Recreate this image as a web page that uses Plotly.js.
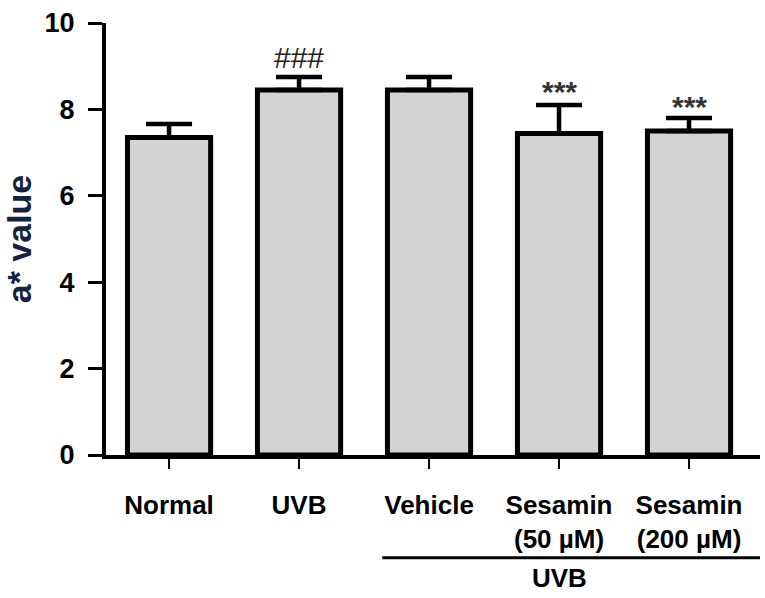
<!DOCTYPE html>
<html>
<head>
<meta charset="utf-8">
<script src="https://cdn.plot.ly/plotly-3.0.1.min.js"></script>
<style>html,body{margin:0;padding:0;background:#fff;}#chart{width:765px;height:598px;}</style>
</head>
<body>
<div id="chart"></div>
<script>
// Data
var categories = ["Normal", "UVB", "Vehicle", "Sesamin (50 µM)", "Sesamin (200 µM)"];
var tickLabels = ["Normal", "UVB", "Vehicle", "Sesamin<br>(50 µM)", "Sesamin<br>(200 µM)"];
var means = [7.35, 8.45, 8.45, 7.44, 7.50];
var errors = [0.31, 0.30, 0.30, 0.66, 0.30];
var marks = ["", "###", "", "***", "***"];
var markY = [null, 9.19, null, 8.41, 8.06];
var groupLabel = "UVB";
var groupStart = 1.64, groupEnd = 4.546, groupCenter = 3.0;

var xs = categories.map(function(_, i){ return i; });

var trace = {
  type: "bar",
  x: xs,
  y: means,
  width: 0.64,
  marker: {color: "#d3d3d3", line: {color: "#000", width: 5}},
  error_y: {type: "data", array: errors, arrayminus: errors.map(function(){return 0;}), symmetric: false,
            color: "#000", thickness: 4.5, width: 23},
  hoverinfo: "skip"
};

var annotations = [];
marks.forEach(function(m, i){
  if (!m) return;
  var isStar = m.indexOf("*") >= 0;
  annotations.push({x: xs[i], y: markY[i], xref: "x", yref: "y", text: isStar ? "<b>" + m + "</b>" : m, showarrow: false,
    font: {family: "Liberation Sans, Arial, sans-serif", size: 30, color: isStar ? "#333" : "#222"},
    xanchor: "center", yanchor: "middle"});
});
annotations.push({x: groupCenter, y: -0.285, xref: "x", yref: "paper", text: "<b>" + groupLabel + "</b>",
  showarrow: false, font: {family: "Liberation Sans, Arial, sans-serif", size: 26, color: "#000"},
  xanchor: "center", yanchor: "middle"});

var layout = {
  width: 765, height: 598,
  margin: {l: 106, r: 5, t: 23, b: 143},
  paper_bgcolor: "#fff", plot_bgcolor: "#fff",
  showlegend: false,
  font: {family: "Liberation Sans, Arial, sans-serif", color: "#000"},
  xaxis: {
    range: [-0.485, 4.546], tickmode: "array", tickvals: xs,
    ticktext: tickLabels.map(function(t){ return "<b>" + t.replace("<br>", "</b><br><b>") + "</b>"; }),
    showline: true, linecolor: "#000", linewidth: 4, ticks: "outside", ticklen: 10, tickwidth: 2.5,
    tickcolor: "#000", showgrid: false, zeroline: false, fixedrange: true,
    tickfont: {size: 26, color: "#000"}, ticklabelstandoff: 14
  },
  yaxis: {
    range: [0, 10], tickvals: [0, 2, 4, 6, 8, 10], ticktext: ["<b>0</b>","<b>2</b>","<b>4</b>","<b>6</b>","<b>8</b>","<b>10</b>"],
    showline: true, linecolor: "#000", linewidth: 4, ticks: "outside", ticklen: 14, tickwidth: 3,
    tickcolor: "#000", showgrid: false, zeroline: false, fixedrange: true,
    tickfont: {size: 27, color: "#000"}, ticklabelstandoff: 8,
    title: {text: "<b>a* value</b>", font: {size: 34, color: "#14233d"}, standoff: 22}
  },
  shapes: [{type: "line", xref: "x", yref: "paper", x0: groupStart, x1: groupEnd, y0: -0.238, y1: -0.238,
            line: {color: "#000", width: 3}}],
  annotations: annotations
};

Plotly.newPlot("chart", [trace], layout, {staticPlot: true, displayModeBar: false});
</script>
</body>
</html>
